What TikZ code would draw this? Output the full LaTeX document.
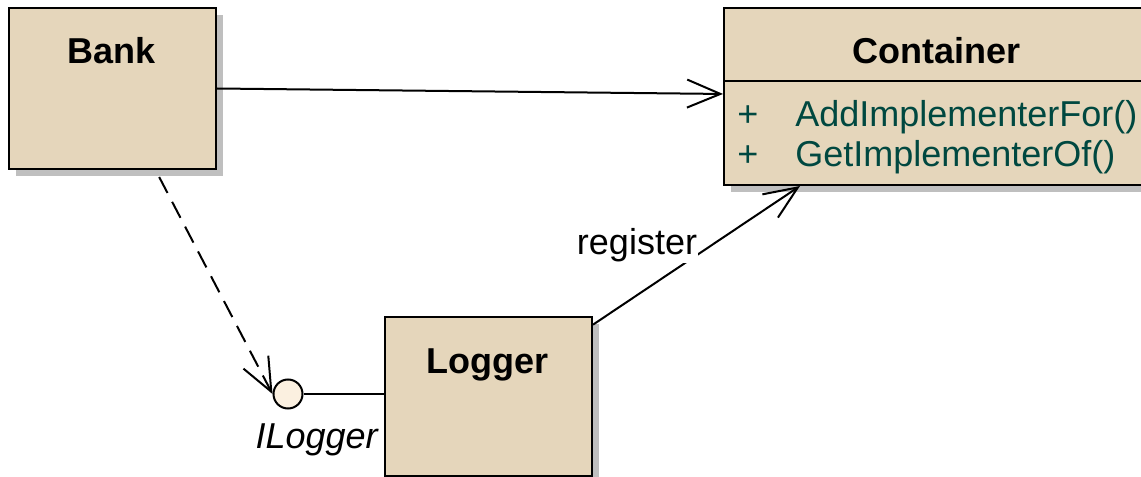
\documentclass[tikz,border=0pt]{standalone}
\usepackage{fontspec}
\setmainfont{Liberation Sans}
\usetikzlibrary{arrows.meta,shadows,calc}

\definecolor{classfill}{RGB}{229,214,187}
\definecolor{shadowgray}{RGB}{191,191,191}
\definecolor{ifacefill}{RGB}{251,240,224}
\definecolor{opcolor}{RGB}{0,72,64}

\tikzset{
  classbox/.style={draw=black, line width=1.5pt, fill=classfill, inner sep=0pt,
    anchor=north west,
    drop shadow={shadow xshift=5.25pt, shadow yshift=-5.25pt, fill=shadowgray, opacity=1}},
  classname/.style={font=\fontsize{27}{32}\selectfont\bfseries, anchor=base, inner sep=0pt},
  optext/.style={font=\fontsize{27}{32}\selectfont, text=opcolor, anchor=base west, inner sep=0pt},
  plaintext/.style={font=\fontsize{27}{32}\selectfont, inner sep=0pt},
  openhead/.style={-{Straight Barb[length=25pt,width=21pt,line width=1.5pt]}},
  assoc/.style={line width=1.5pt, openhead},
  depend/.style={line width=1.5pt, dash pattern=on 13.5pt off 7.5pt, openhead},
  lollipop/.style={circle, draw=black, line width=1.5pt, fill=ifacefill,
    minimum size=21.75pt, inner sep=0pt}
}

\begin{document}
\begin{tikzpicture}[x=0.75pt, y=-0.75pt]
  \useasboundingbox (0,0) rectangle (1141,477);
  \clip (0,0) rectangle (1141,477);

  % classes
  \node[classbox, minimum width=155.25pt, minimum height=120.75pt] (bank) at (8,7) {};
  \node[classname] (bankname) at (111.5,64) {Bank};

  \node[classbox, minimum width=320.25pt, minimum height=132.75pt] (container) at (723,7) {};
  \draw[line width=1.5pt] (723,81) -- (1150,81);
  \node[classname] (containername) at (936.5,64) {Container};
  \node[optext] (plusa) at (737,127) {+};
  \node[optext] (opa) at (795,127) {AddImplementerFor()};
  \node[optext] (plusb) at (737,167) {+};
  \node[optext] (opb) at (795,167) {GetImplementerOf()};

  \node[classbox, minimum width=155.25pt, minimum height=119.25pt] (logger) at (384,316) {};
  \node[classname] (loggername) at (487.5,373) {Logger};

  % provided interface
  \node[lollipop] (iface) at (288,394) {};
  \node[plaintext, font=\fontsize{27}{32}\selectfont\itshape, anchor=base east] (ifacename) at (378,448) {ILogger};
  \draw[line width=1.5pt] (iface.east) -- (iface.east -| logger.west);

  % connectors
  \draw[assoc] (bank.east) -- ([yshift=1.9pt]container.west);
  \draw[depend] ([xshift=35pt,yshift=-5.25pt]bank.south) -- (iface.west);
  \draw[assoc] ([yshift=-6.5pt]logger.north east) -- ([xshift=57.75pt]container.south west);
  \node[plaintext, fill=white, inner sep=1pt] (reglabel) at (637,245) {register};
\end{tikzpicture}
\end{document}
